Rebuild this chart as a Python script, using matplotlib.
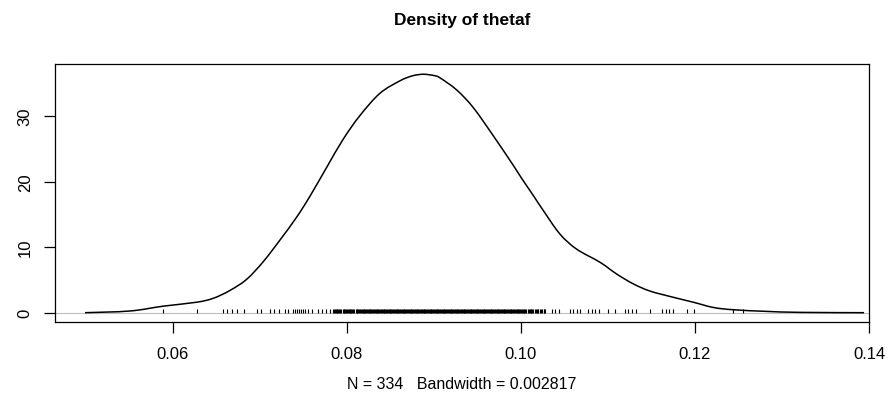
import matplotlib
matplotlib.use("Agg")
import matplotlib.pyplot as plt
from matplotlib.path import Path
from matplotlib.patches import PathPatch

plt.rcParams["font.family"] = ["Liberation Sans", "DejaVu Sans"]

# density curve
dens_x = [0.04989, 0.05506, 0.05889, 0.06272, 0.06463, 0.06655, 0.06847,
          0.07038, 0.07230, 0.07422, 0.07575, 0.07767, 0.07957, 0.08149,
          0.08379, 0.08609, 0.08750, 0.08877, 0.09000, 0.09069, 0.09261,
          0.09452, 0.09682, 0.09911, 0.10008, 0.10141, 0.10256, 0.10448,
          0.10640, 0.10908, 0.11100, 0.11291, 0.11483, 0.11751, 0.11980,
          0.12210, 0.12440, 0.12824, 0.13207, 0.13943]
dens_y = [0.0, 0.26, 1.0, 1.6, 2.2, 3.4, 5.1,
          7.8, 11.1, 14.6, 17.8, 22.2, 26.5, 30.1,
          33.5, 35.4, 36.15, 36.4, 36.2, 35.85, 34.0,
          31.3, 27.0, 22.5, 20.5, 17.9, 15.6, 12.0,
          9.7, 7.7, 5.9, 4.4, 3.3, 2.35, 1.6,
          0.8, 0.45, 0.2, 0.05, 0.0]

# observations shown as the rug
rug_sparse_lo = [0.05889, 0.06279, 0.06580, 0.06621, 0.06678, 0.06741, 0.06816,
                 0.06969, 0.07011, 0.07115, 0.07161, 0.07213, 0.07287, 0.07325,
                 0.07379, 0.07402, 0.07425, 0.07448, 0.07471, 0.07494, 0.07517,
                 0.07552, 0.07598, 0.07667, 0.07709, 0.07759, 0.07805]
rug_dense = [
    0.0784, 0.0785, 0.0786, 0.0787, 0.0788, 0.0789, 0.0790, 0.0791, 0.0792,
    0.0793, 0.0795, 0.0796, 0.0797, 0.0798, 0.0799, 0.0800, 0.0801, 0.0802,
    0.0803, 0.0804, 0.0805, 0.0806, 0.0807, 0.0808, 0.0810, 0.0811, 0.0812,
    0.0813, 0.0814, 0.0815, 0.0816, 0.0817, 0.0818, 0.0819, 0.0820, 0.0821,
    0.0822, 0.0823, 0.0824, 0.0825, 0.0826, 0.0827, 0.0828, 0.0829, 0.0830,
    0.0831, 0.0832, 0.0833, 0.0834, 0.0835, 0.0836, 0.0837, 0.0838, 0.0839,
    0.0840, 0.0841, 0.0842, 0.0843, 0.0844, 0.0845, 0.0846, 0.0847, 0.0848,
    0.0849, 0.0850, 0.0851, 0.0852, 0.0853, 0.0854, 0.0855, 0.0856, 0.0857,
    0.0858, 0.0859, 0.0860, 0.0861, 0.0862, 0.0863, 0.0864, 0.0865, 0.0866,
    0.0867, 0.0868, 0.0869, 0.0870, 0.0871, 0.0872, 0.0873, 0.0874, 0.0875,
    0.0876, 0.0877, 0.0878, 0.0879, 0.0880, 0.0881, 0.0882, 0.0883, 0.0884,
    0.0885, 0.0886, 0.0887, 0.0888, 0.0889, 0.0890, 0.0891, 0.0892, 0.0893,
    0.0894, 0.0895, 0.0896, 0.0897, 0.0898, 0.0899, 0.0900, 0.0901, 0.0902,
    0.0903, 0.0904, 0.0905, 0.0906, 0.0907, 0.0908, 0.0909, 0.0910, 0.0911,
    0.0912, 0.0913, 0.0914, 0.0915, 0.0916, 0.0917, 0.0918, 0.0919, 0.0920,
    0.0921, 0.0922, 0.0923, 0.0924, 0.0925, 0.0926, 0.0927, 0.0928, 0.0929,
    0.0930, 0.0931, 0.0932, 0.0933, 0.0934, 0.0935, 0.0936, 0.0937, 0.0938,
    0.0939, 0.0940, 0.0941, 0.0942, 0.0943, 0.0944, 0.0945, 0.0946, 0.0947,
    0.0948, 0.0949, 0.0950, 0.0951, 0.0952, 0.0953, 0.0954, 0.0955, 0.0956,
    0.0957, 0.0958, 0.0959, 0.0960, 0.0961, 0.0962, 0.0963, 0.0964, 0.0965,
    0.0966, 0.0967, 0.0968, 0.0969, 0.0970, 0.0971, 0.0972, 0.0973, 0.0974,
    0.0975, 0.0976, 0.0977, 0.0978, 0.0979, 0.0980, 0.0981, 0.0982, 0.0983,
    0.0984, 0.0985, 0.0986, 0.0987, 0.0988, 0.0989, 0.0990, 0.0991, 0.0992,
    0.0993, 0.0994, 0.0995, 0.0996, 0.0997, 0.0998, 0.0999, 0.1000, 0.1001,
    0.1002, 0.1003, 0.1004, 0.1005, 0.1006, 0.1008, 0.1009, 0.1010, 0.1011,
    0.1012, 0.1013, 0.1014, 0.1016, 0.1017, 0.1018, 0.1019, 0.1020, 0.1022,
    0.1023, 0.1024, 0.1026, 0.1027, 0.1028]
rug_sparse_hi = [0.10353, 0.10391, 0.10437, 0.10563, 0.10601, 0.10640, 0.10678,
                 0.10770, 0.10816, 0.10851, 0.10891, 0.11000, 0.11080, 0.11195,
                 0.11233, 0.11272, 0.11322, 0.11483, 0.11621, 0.11667, 0.11705,
                 0.11751, 0.11908, 0.11989, 0.12437, 0.12548]

x_ticks = [0.06, 0.08, 0.10, 0.12, 0.14]
x_tick_labels = ["0.06", "0.08", "0.10", "0.12", "0.14"]
y_ticks = [0, 10, 20, 30]

title = "Density of thetaf"
xlab = "N = 334   Bandwidth = 0.002817"


def smooth_path(xs, ys):
    # Catmull-Rom through the read points, drawn as cubic Bezier segments
    pts = list(zip(xs, ys))
    verts = [pts[0]]
    codes = [Path.MOVETO]
    n = len(pts)
    for i in range(n - 1):
        p0 = pts[max(i - 1, 0)]
        p1 = pts[i]
        p2 = pts[i + 1]
        p3 = pts[min(i + 2, n - 1)]
        c1 = (p1[0] + (p2[0] - p0[0]) / 6, p1[1] + (p2[1] - p0[1]) / 6)
        c2 = (p2[0] - (p3[0] - p1[0]) / 6, p2[1] - (p3[1] - p1[1]) / 6)
        verts += [c1, c2, p2]
        codes += [Path.CURVE4] * 3
    return Path(verts, codes)


W, H = 892, 414
fig = plt.figure(figsize=(W / 100, H / 100), dpi=100)
ax = fig.add_axes([55 / W, 1 - 323.3 / H, 814 / W, (323.3 - 65.3) / H])

ax.axhline(0, color="#bebebe", lw=0.8, zorder=1)
ax.add_patch(PathPatch(smooth_path(dens_x, dens_y), fill=False,
                       edgecolor="black", lw=1.1, zorder=3))
rug = rug_sparse_lo + rug_dense + rug_sparse_hi
ax.vlines(rug, -0.05, 0.5, color="black", lw=0.8, zorder=2)

ax.set_xlim(0.046437, 0.14)
ax.set_ylim(-1.466, 37.92)

for s in ax.spines.values():
    s.set_linewidth(0.9)
ax.set_xticks(x_ticks)
ax.set_xticklabels(x_tick_labels)
ax.set_yticks(y_ticks)
ax.tick_params(axis="both", length=8, width=0.9, labelsize=12, pad=9)
ax.tick_params(axis="y", labelrotation=90, pad=8)
for lab in ax.get_yticklabels():
    lab.set_va("center")

fig.text(462 / W, 1 - 20 / H, title, ha="center", va="center",
         fontsize=12.5, fontweight="bold")
fig.text(462 / W, 1 - 385 / H, xlab, ha="center", va="center", fontsize=11.5)

fig.savefig("out.png", dpi=100)
